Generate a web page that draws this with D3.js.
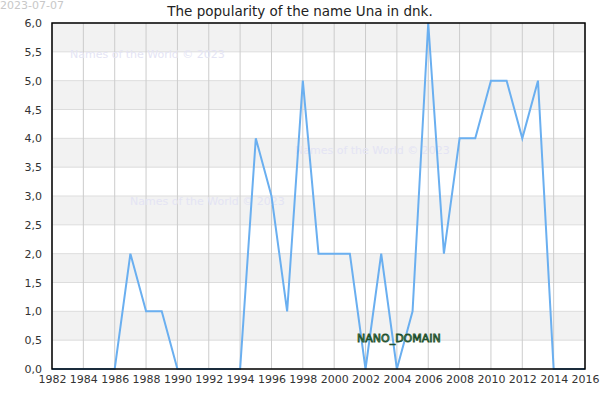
<!DOCTYPE html>
<html>
<head>
<meta charset="utf-8">
<script src="https://cdn.jsdelivr.net/npm/d3@7"></script>
<style>
body{margin:0;background:#fff;}
text{font-family:"DejaVu Sans",sans-serif;}
</style>
</head>
<body>
<div id="chart"></div>
<script>
const years = d3.range(1982, 2017);
const values = [0,0,0,0,0,2,1,1,0,0,0,0,0,4,3,1,5,2,2,2,0,2,0,1,6,2,4,4,5,5,4,5,0,0,0];
const yTicks = [0,0.5,1,1.5,2,2.5,3,3.5,4,4.5,5,5.5,6];
const xTicks = d3.range(1982, 2017, 2);

const margin = {top:23,right:15,bottom:31,left:52};
const width = 600-margin.left-margin.right;
const height = 400-margin.top-margin.bottom;

const svg = d3.select('#chart')
.append('svg')
.attr('width',600)
.attr('height',400);

const x = d3.scaleLinear().domain([1982,2016]).range([0,width]);
const y = d3.scaleLinear().domain([0,6]).range([height,0]);
const fmt = d => d3.format('.1f')(d).replace('.',',');

svg.append('text')
.attr('x',300).attr('y',16)
.attr('text-anchor','middle')
.attr('font-size',13.5)
.attr('fill','#222')
.text('The popularity of the name Una in dnk.');

svg.append('text')
.attr('x',0).attr('y',9)
.attr('font-size',11)
.attr('fill','#c8c8c8')
.text('2023-07-07');

const g = svg.append('g')
.attr('transform',`translate(${margin.left},${margin.top})`);

// alternating bands
g.selectAll('.band')
.data(yTicks.slice(0,-1))
.enter()
.append('rect')
.attr('x',0)
.attr('width',width)
.attr('y',d => y(d+0.5))
.attr('height',d => y(d)-y(d+0.5))
.attr('fill',(d,i) => i%2===1 ? '#f2f2f2' : '#fff');

g.selectAll('.hgrid')
.data(yTicks)
.enter()
.append('line')
.attr('x1',0).attr('x2',width)
.attr('y1',d => y(d)).attr('y2',d => y(d))
.attr('stroke','#dddddd');

g.selectAll('.vgrid')
.data(xTicks)
.enter()
.append('line')
.attr('x1',d => x(d)).attr('x2',d => x(d))
.attr('y1',0).attr('y2',height)
.attr('stroke','#cccccc');

// watermarks
const marks = [[18,35],[78,182],[243,131]];
g.selectAll('.wm')
.data(marks)
.enter()
.append('text')
.attr('x',d => d[0]).attr('y',d => d[1])
.attr('font-size',11)
.attr('fill','#e4e4f4')
.text('Names of the World © 2023');

const line = d3.line()
.x((d,i) => x(years[i]))
.y(d => y(d));

g.append('path')
.datum(values)
.attr('d',line)
.attr('fill','none')
.attr('stroke','#6aaff0')
.attr('stroke-width',2);

// frame
g.append('rect')
.attr('width',width).attr('height',height)
.attr('fill','none')
.attr('stroke','#000')
.attr('stroke-width',1.5);

const yAxis = g.append('g').call(d3.axisLeft(y).tickValues(yTicks).tickFormat(fmt).tickSize(0).tickPadding(10));
yAxis.select('.domain').remove();
yAxis.selectAll('text').attr('font-size',11).attr('fill','#333').attr('font-family','DejaVu Sans');

const xAxis = g.append('g')
.attr('transform',`translate(0,${height})`)
.call(d3.axisBottom(x).tickValues(xTicks).tickFormat(d3.format('d')).tickSize(0).tickPadding(6));
xAxis.select('.domain').remove();
xAxis.selectAll('text').attr('font-size',11).attr('fill','#333').attr('font-family','DejaVu Sans');

svg.append('text')
.attr('x',357).attr('y',342)
.attr('font-size',11)
.attr('fill','#6fb07f')
.attr('stroke','#1f4f2c')
.attr('stroke-width',0.8)
.text('NANO_DOMAIN');
</script>
</body>
</html>
